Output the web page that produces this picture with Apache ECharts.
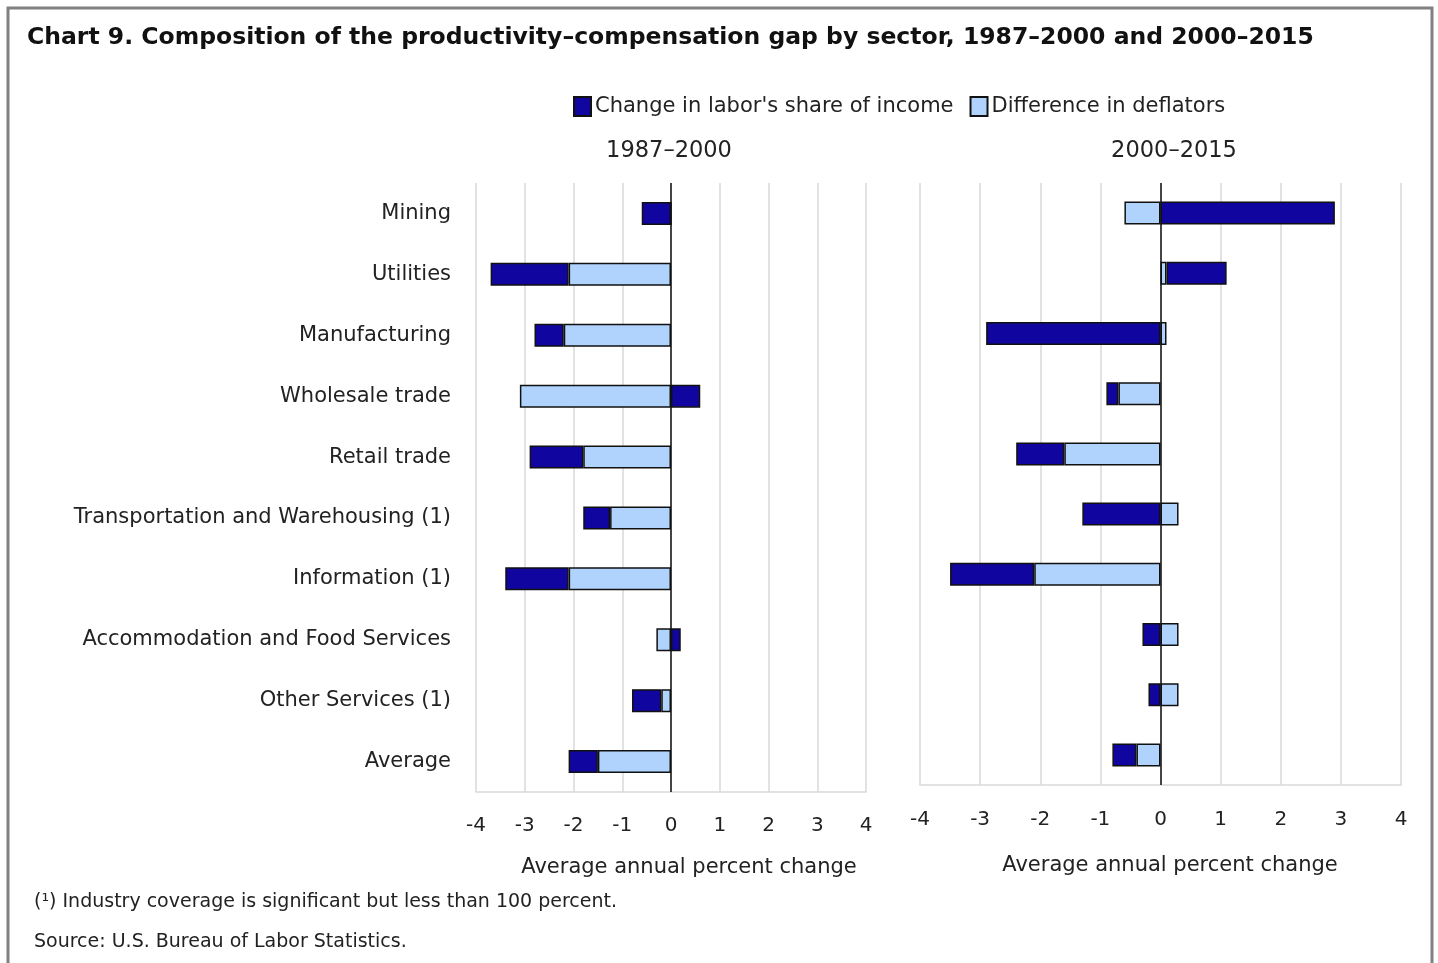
<!DOCTYPE html>
<html>
<head>
<meta charset="utf-8">
<script src="https://cdn.jsdelivr.net/npm/echarts@6/dist/echarts.min.js"></script>
<style>
  html, body { margin: 0; padding: 0; background: #fff; }
  #chart { width: 1438px; height: 963px; }
</style>
</head>
<body>
<div id="chart"></div>
<script>
// sectors, top to bottom
const sectors = ['Mining', 'Utilities', 'Manufacturing', 'Wholesale trade', 'Retail trade',
  'Transportation and Warehousing (1)', 'Information (1)', 'Accommodation and Food Services',
  'Other Services (1)', 'Average'];
const xTicks = [-4, -3, -2, -1, 0, 1, 2, 3, 4];

// 1987-2000
const deflators1987 = [0, -2.1, -2.2, -3.1, -1.8, -1.25, -2.1, -0.3, -0.2, -1.5];
const laborShare1987 = [-0.6, -1.6, -0.6, 0.6, -1.1, -0.55, -1.3, 0.2, -0.6, -0.6];
// 2000-2015
const deflators2000 = [-0.6, 0.1, 0.1, -0.7, -1.6, 0.3, -2.1, 0.3, 0.3, -0.4];
const laborShare2000 = [2.9, 1.0, -2.9, -0.2, -0.8, -1.3, -1.4, -0.3, -0.2, -0.4];

const DARK = '#10069f';
const LIGHT = '#afd3fd';
const FONT = "'DejaVu Sans', sans-serif";
const TEXT = '#222';

const chart = echarts.init(document.getElementById('chart'));

function xAxisFor(gridIndex) {
  return {
    type: 'value', gridIndex: gridIndex,
    min: xTicks[0], max: xTicks[xTicks.length - 1], interval: 1,
    axisLine: { show: true, lineStyle: { color: '#d9d9d9', width: 1.5 } },
    axisTick: { show: false },
    splitLine: { show: true, lineStyle: { color: '#d9d9d9', width: 1.5 } },
    axisLabel: { color: TEXT, fontFamily: FONT, fontSize: 20, margin: gridIndex === 0 ? 24 : 25 }
  };
}

function yAxisFor(gridIndex, showLabels) {
  return {
    type: 'category', gridIndex: gridIndex, data: sectors, inverse: true,
    axisLine: { show: false }, axisTick: { show: false },
    axisLabel: { show: showLabels, color: TEXT, fontFamily: FONT, fontSize: 21, margin: 25 }
  };
}

function barSeries(name, data, color, idx, withZero) {
  const s = {
    name: name, type: 'bar', stack: 'p' + idx,
    xAxisIndex: idx, yAxisIndex: idx,
    data: data, barWidth: 23,
    itemStyle: { color: color, borderColor: '#111', borderWidth: 1.5 },
    emphasis: { disabled: true },
    animation: false
  };
  if (withZero) {
    s.markLine = {
      silent: true, symbol: 'none', label: { show: false },
      lineStyle: { color: '#111', width: 1.5, type: 'solid' },
      data: [{ xAxis: 0 }]
    };
  }
  return s;
}

const subStyle = { color: TEXT, fontFamily: FONT, fontSize: 21, fontWeight: 'normal' };
const yearStyle = { color: TEXT, fontFamily: FONT, fontSize: 22.5, fontWeight: 'normal' };
const noteStyle = { color: TEXT, fontFamily: FONT, fontSize: 19, fontWeight: 'normal' };

const option = {
  backgroundColor: '#fff',
  animation: false,
  title: [
    { text: 'Chart 9. Composition of the productivity\u2013compensation gap by sector, 1987\u20132000 and 2000\u20132015',
      left: 22, top: 21,
      textStyle: { color: '#111', fontFamily: FONT, fontSize: 23.5, fontWeight: 'bold' } },
    { text: '1987\u20132000', left: 664, top: 135, textAlign: 'center', textStyle: yearStyle },
    { text: '2000\u20132015', left: 1169, top: 135, textAlign: 'center', textStyle: yearStyle },
    { text: 'Average annual percent change', left: 684, top: 852, textAlign: 'center', textStyle: subStyle },
    { text: 'Average annual percent change', left: 1165, top: 850, textAlign: 'center', textStyle: subStyle },
    { text: '(\u00b9) Industry coverage is significant but less than 100 percent.', left: 29, top: 888, textStyle: noteStyle },
    { text: 'Source: U.S. Bureau of Labor Statistics.', left: 29, top: 928, textStyle: noteStyle }
  ],
  legend: {
    data: ["Change in labor's share of income", 'Difference in deflators'],
    icon: 'rect',
    left: 568, top: 91, itemWidth: 17, itemHeight: 19, itemGap: 16,
    textStyle: { color: TEXT, fontFamily: FONT, fontSize: 21, padding: [0, 0, 0, -1] }
  },
  graphic: [{
    type: 'rect', silent: true,
    shape: { x: 8, y: 8, width: 1424, height: 970 },
    style: { fill: 'none', stroke: '#808080', lineWidth: 3 }
  }],
  grid: [
    { left: 476, right: 572, top: 183, bottom: 171 },
    { left: 920, right: 37, top: 183, bottom: 178 }
  ],
  xAxis: [xAxisFor(0), xAxisFor(1)],
  yAxis: [yAxisFor(0, true), yAxisFor(1, false)],
  series: [
    barSeries('Difference in deflators', deflators1987, LIGHT, 0, true),
    barSeries("Change in labor's share of income", laborShare1987, DARK, 0, false),
    barSeries('Difference in deflators', deflators2000, LIGHT, 1, true),
    barSeries("Change in labor's share of income", laborShare2000, DARK, 1, false)
  ]
};

chart.setOption(option);
</script>
</body>
</html>
